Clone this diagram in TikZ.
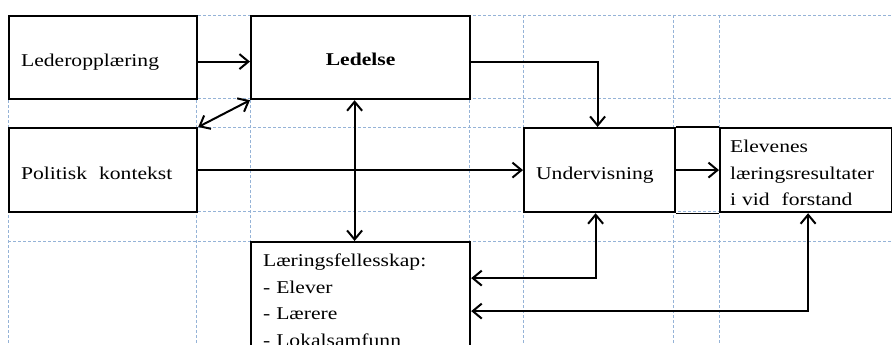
\documentclass[tikz,border=0pt]{standalone}
\usepackage{fontspec}
\setmainfont{Liberation Serif}[FakeStretch=1.2]
\usetikzlibrary{arrows.meta,positioning}
\definecolor{gridblue}{RGB}{149,179,215}

\begin{document}
\begin{tikzpicture}[x=1pt,y=-1pt,
    box/.style={draw, line width=2.2pt, fill=white, anchor=north west, inner sep=0pt,
        align=left, font=\fontsize{18}{26.5}\selectfont},
    push/.style={execute at begin node={\rule{0pt}{#1}}},
    gridline/.style={draw=gridblue, dash pattern=on 3pt off 2pt, line width=0.8pt},
    arrow/.style={-{Straight Barb[length=9pt,width=15pt]}, line width=2pt},
    both/.style={{Straight Barb[length=9pt,width=15pt]}-{Straight Barb[length=9pt,width=15pt]}, line width=2pt}
]
\useasboundingbox (0,0) rectangle (892,345);
\clip (0,0) rectangle (892,345);

% dashed table grid
\foreach \y in {15,98,127,211,241}
    \draw[gridline] (8,\y) -- (891,\y);
\foreach \x in {8,196,250,469,523,673,719}
    \draw[gridline] (\x,15) -- (\x,345);

\node[box, push=22pt, minimum width=188, minimum height=83, text width=164pt, inner xsep=12pt] (lederopp) at (8,15) {Lederopplæring};
\node[box, push=18.5pt, minimum width=188, minimum height=84, text width=164pt, inner xsep=12pt] (politisk) at (8,127) {Politisk\ \ kontekst};
\node[box, push=16.5pt, minimum width=219, minimum height=83, text width=219pt, align=center] (ledelse) at (250,15) {\textbf{Ledelse}};
\node[box, push=22pt, minimum width=151, minimum height=84, text width=127pt, inner xsep=12pt] (underv) at (523,127) {Undervisning};
\node[box, push=18.5pt, minimum width=172, minimum height=84, text width=152pt, inner xsep=10pt] (elevenes) at (719,127) {Elevenes\\læringsresultater\\i vid\ \ forstand};
\node[box, minimum width=219, minimum height=116, text width=195pt, inner xsep=12pt] (laering) at (250,241) {Læringsfellesskap:\\- Elever\\- Lærere\\- Lokalsamfunn};

\draw[line width=1.2pt] (underv.north east) -- (elevenes.north west);
\draw[line width=1.2pt] (underv.south east) -- (elevenes.south west);

\draw[arrow] ([yshift=-4pt]lederopp.east) -- ([yshift=-4pt]ledelse.west);
\draw[both] (politisk.north east) -- (ledelse.south west);
\draw[arrow] ([yshift=-4pt]ledelse.east) -| ([xshift=-2pt]underv.north);
\draw[arrow] (politisk.east) -- (underv.west);
\draw[arrow] (underv.east) -- (elevenes.west);
\draw[both] ([xshift=-6pt]ledelse.south) -- ([xshift=-6pt]laering.north);
\draw[both] ([yshift=22pt]laering.east) -| ([xshift=-4pt]underv.south);
\draw[both] ([yshift=-11pt]laering.east) -| ([xshift=2pt]elevenes.south);
\end{tikzpicture}
\end{document}
